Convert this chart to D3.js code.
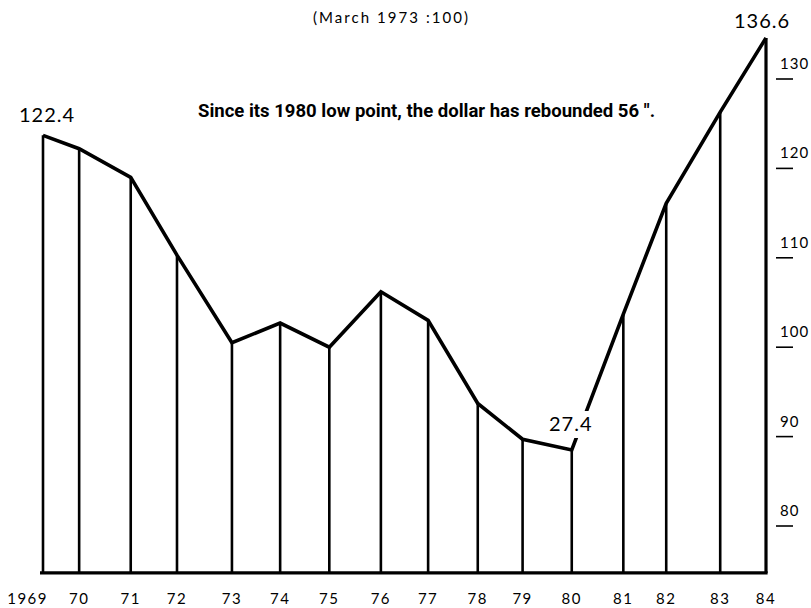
<!DOCTYPE html>
<html><head><meta charset="utf-8">
<script src="https://cdn.jsdelivr.net/npm/d3@7"></script>
<style>body{margin:0;background:#fff} svg{display:block}</style>
</head><body>
<svg id="c" width="811" height="608"></svg>
<script>
// ---- data ----
const yearLabels = ["1969","70","71","72","73","74","75","76","77","78","79","80","81","82","83","84"];
const obsDates   = [1969.0,1969.75,1970.82,1971.78,1972.92,1973.92,1974.94,1976.01,1976.99,1978.02,1978.95,1979.97,1981.04,1981.93,1983.05,1984.0];
const dollarIndex = [123.7,122.2,119.0,110.3,100.5,102.7,100.0,106.2,103.0,93.7,89.7,88.5,103.7,116.1,126.3,134.6];
const yTicks = [80,90,100,110,120,130];
const titleText = "(March 1973 :100)";
const noteText = "Since its 1980 low point, the dollar has rebounded 56 \".";
const calloutIdx = [0, 15, 11];
const calloutText = ["122.4", "136.6", "27.4"];

// ---- layout ----
const svg = d3.select("#c");
const W = 811, H = 608;
const x = d3.scaleLinear().domain([1969, 1984]).range([43, 766]);
const y = d3.scaleLinear().domain([80, 130]).range([526, 79]);
const baseVal = 74.75;
const baseY = y(baseVal);
const font = "Lato, 'Open Sans', sans-serif";

svg.append("rect").attr("width", W).attr("height", H).attr("fill", "#fff");

const pts = obsDates.map((d, i) => ({d, v: dollarIndex[i], label: yearLabels[i], i}));

// drop lines
svg.append("g").selectAll("line").data(pts).join("line")
  .attr("x1", p => x(p.d)).attr("x2", p => x(p.d))
  .attr("y1", p => y(p.v)).attr("y2", baseY)
  .attr("stroke", "#000")
  .attr("stroke-width", p => p.i === pts.length - 1 ? 3.2 : 2.6);

// baseline
svg.append("line")
  .attr("x1", x(1969) - 3).attr("x2", x(1984) + 1.6)
  .attr("y1", baseY).attr("y2", baseY)
  .attr("stroke", "#000").attr("stroke-width", 3.2);

// main line
svg.append("path").datum(pts)
  .attr("d", d3.line().x(p => x(p.d)).y(p => y(p.v)))
  .attr("fill", "none").attr("stroke", "#000")
  .attr("stroke-width", 3.6).attr("stroke-linejoin", "miter");

// right axis tick marks and labels
const tg = svg.append("g");
tg.selectAll("line").data(yTicks).join("line")
  .attr("x1", 776).attr("x2", 793)
  .attr("y1", v => y(v)).attr("y2", v => y(v))
  .attr("stroke", "#000").attr("stroke-width", 1.6);
tg.selectAll("text").data(yTicks).join("text")
  .attr("x", 780).attr("y", v => y(v) - 10)
  .attr("font-family", font).attr("font-size", 15)
  .attr("letter-spacing", 1)
  .text(v => v);

// x labels
svg.append("g").selectAll("text").data(pts).join("text")
  .attr("x", p => p.i === 0 ? x(p.d) + 5 : x(p.d))
  .attr("y", 604)
  .attr("text-anchor", p => p.i === 0 ? "end" : "middle")
  .attr("font-family", font).attr("font-size", 15)
  .attr("letter-spacing", 1.5)
  .text(p => p.label);

// title
svg.append("text").attr("x", 313).attr("y", 23)
  .attr("font-family", font).attr("font-size", 15)
  .attr("textLength", 155).attr("lengthAdjust", "spacing")
  .text(titleText);

// note
svg.append("text").attr("x", 198).attr("y", 117)
  .attr("font-family", "'Liberation Sans Narrow', 'Roboto', sans-serif")
  .attr("font-weight", "bold").attr("font-size", 18)
  .attr("textLength", 457).attr("lengthAdjust", "spacingAndGlyphs")
  .text(noteText);

// callouts
const calloutOffsets = [[4, -13], [-4, -10], [-1, -19]];
calloutIdx.forEach((idx, k) => {
  const p = pts[idx];
  const cx = x(p.d) + calloutOffsets[k][0];
  const cy = y(p.v) + calloutOffsets[k][1];
  if (k === 2) {
    svg.append("rect").attr("x", cx - 23).attr("y", cy - 20)
      .attr("width", 47).attr("height", 27).attr("fill", "#fff");
  }
  svg.append("text").attr("x", cx).attr("y", cy)
    .attr("text-anchor", "middle")
    .attr("font-family", font).attr("font-size", 20)
    .attr("letter-spacing", 1)
    .text(calloutText[k]);
});
</script>
</body></html>
